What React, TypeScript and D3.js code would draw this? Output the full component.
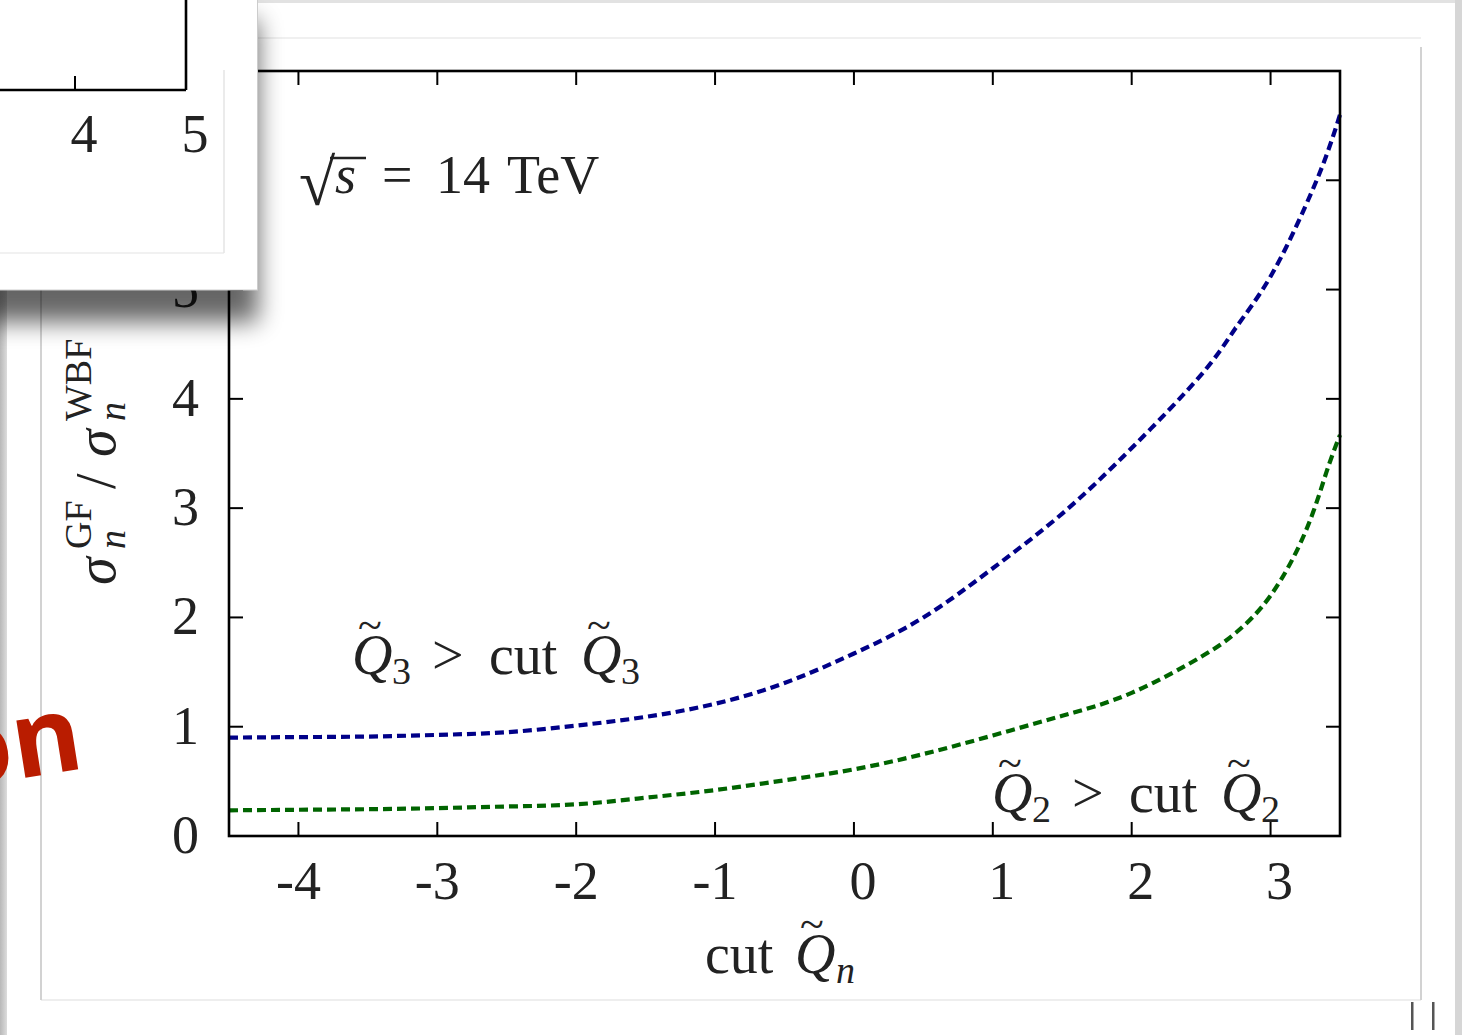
import React from 'react';
import * as d3 from 'd3';

// cut value on Q̃n and the GF/WBF cross-section ratio for each selection
const cutValues = [-4.5, -4, -3.5, -3, -2.5, -2, -1.5, -1, -0.5, 0, 0.5, 1, 1.5, 2, 2.5, 2.75, 3, 3.25, 3.4, 3.5];
const ratioQ3 = [0.9, 0.905, 0.91, 0.925, 0.95, 1.01, 1.09, 1.21, 1.4, 1.67, 2.0, 2.45, 2.95, 3.55, 4.22, 4.65, 5.12, 5.76, 6.22, 6.6];
const ratioQ2 = [0.235, 0.24, 0.245, 0.255, 0.27, 0.29, 0.35, 0.42, 0.51, 0.61, 0.75, 0.92, 1.1, 1.31, 1.64, 1.86, 2.2, 2.78, 3.32, 3.67];

const xTicks = [-4, -3, -2, -1, 0, 1, 2, 3];
const yTicks = [0, 1, 2, 3, 4, 5, 6];
const insetTicks = [4, 5];

const serif = '"Liberation Serif", "DejaVu Serif", serif';
const F = 54; // main text size
const FS = 38; // sub/superscript size

function Tilde({ cx, baseline }: { cx: number; baseline: number }) {
  return (
    <text x={cx} y={baseline - 34} textAnchor="middle" fontSize={44} fontFamily={serif} fill="#222">
      ~
    </text>
  );
}

// "Q̃k > cut Q̃k" annotation placed from its left edge
function CutLabel({ x0, baseline, k }: { x0: number; baseline: number; k: string }) {
  return (
    <g>
      <text y={baseline} fontFamily={serif} fontSize={56} fill="#222">
        <tspan x={x0} fontStyle="italic">Q</tspan>
        <tspan x={x0 + 40} y={baseline + 10} fontSize={FS}>{k}</tspan>
        <tspan x={x0 + 80} y={baseline}>&gt;</tspan>
        <tspan x={x0 + 137}>cut</tspan>
        <tspan x={x0 + 229} fontStyle="italic">Q</tspan>
        <tspan x={x0 + 269} y={baseline + 10} fontSize={FS}>{k}</tspan>
      </text>
      <Tilde cx={x0 + 18} baseline={baseline} />
      <Tilde cx={x0 + 247} baseline={baseline} />
    </g>
  );
}

export default function App() {
  const W = 1462;
  const H = 1035;
  const m = { left: 229, right: 1340, top: 71, bottom: 836 };
  const x = d3.scaleLinear().domain([-4.5, 3.5]).range([m.left, m.right]);
  const y = d3.scaleLinear().domain([0, 7]).range([m.bottom, m.top]);
  const xi = d3.scaleLinear().domain([4, 5]).range([75, 186]);
  const tick = 14;

  const line = d3
    .line<number>()
    .x((_, i) => x(cutValues[i]))
    .y((d) => y(d))
    .curve(d3.curveNatural);

  return (
    <svg width={W} height={H} style={{ position: 'absolute', left: 0, top: 0, background: '#fff' }}>
      <defs>
        <filter id="cardShadow" x="-30%" y="-30%" width="160%" height="160%">
          <feGaussianBlur stdDeviation="12" />
        </filter>
        <linearGradient id="edgeL" x1="0" x2="1">
          <stop offset="0" stopColor="#b8b8b8" />
          <stop offset="1" stopColor="#dcdcdc" />
        </linearGradient>
      </defs>

      {/* slide frame */}
      <rect x={0} y={0} width={W} height={H} fill="#fff" />
      <rect x={0} y={0} width={W} height={3} fill="#e2e2e2" />
      <rect x={0} y={0} width={7} height={H} fill="url(#edgeL)" />
      <rect x={1455} y={0} width={7} height={H} fill="#d6d6d6" />
      <line x1={41} x2={1421} y1={38} y2={38} stroke="#f0f0f0" strokeWidth={2} />
      <line x1={41} x2={1421} y1={1000} y2={1000} stroke="#eeeeee" strokeWidth={2} />
      <line x1={41} x2={41} y1={38} y2={1000} stroke="#d2d2d2" strokeWidth={2} />
      <line x1={1421} x2={1421} y1={47} y2={1000} stroke="#d2d2d2" strokeWidth={2} />
      <rect x={1411} y={1002} width={2.5} height={28} fill="#555" />
      <rect x={1432} y={1002} width={2.5} height={28} fill="#555" />

      {/* curves */}
      <path d={line(ratioQ3) ?? ''} fill="none" stroke="#000088" strokeWidth={4.2} strokeDasharray="9 5" />
      <path d={line(ratioQ2) ?? ''} fill="none" stroke="#006400" strokeWidth={4.2} strokeDasharray="9 5" />

      {/* frame and ticks */}
      <rect x={m.left} y={m.top} width={m.right - m.left} height={m.bottom - m.top} fill="none" stroke="#000" strokeWidth={2.6} />
      {xTicks.map((t) => (
        <g key={'x' + t}>
          <line x1={x(t)} x2={x(t)} y1={m.bottom} y2={m.bottom - tick} stroke="#000" strokeWidth={2} />
          <line x1={x(t)} x2={x(t)} y1={m.top} y2={m.top + tick} stroke="#000" strokeWidth={2} />
          <text x={x(t) + (t >= 0 ? 9 : 0)} y={899} textAnchor="middle" fontFamily={serif} fontSize={F} fill="#222">
            {String(t)}
          </text>
        </g>
      ))}
      {yTicks.map((t) => (
        <g key={'y' + t}>
          <line x1={m.left} x2={m.left + tick} y1={y(t)} y2={y(t)} stroke="#000" strokeWidth={2} />
          <line x1={m.right} x2={m.right - tick} y1={y(t)} y2={y(t)} stroke="#000" strokeWidth={2} />
          <text x={199} y={y(t) + 17} textAnchor="end" fontFamily={serif} fontSize={F} fill="#222">
            {String(t)}
          </text>
        </g>
      ))}

      {/* energy label */}
      <text y={193} fontFamily={serif} fontSize={F} fill="#222">
        <tspan x={299} y={205} fontSize={66}>{'\u221A'}</tspan>
        <tspan x={335} y={193} fontStyle="italic">s</tspan>
        <tspan x={382}>=</tspan>
        <tspan x={436}>14</tspan>
        <tspan x={507}>TeV</tspan>
      </text>
      <line x1={330} x2={366} y1={158} y2={158} stroke="#222" strokeWidth={2.4} />

      <CutLabel x0={352} baseline={674} k="3" />
      <CutLabel x0={992} baseline={812} k="2" />

      {/* axis titles */}
      <g>
        <text y={973} fontFamily={serif} fontSize={56} fill="#222">
          <tspan x={705}>cut</tspan>
          <tspan x={795} fontStyle="italic">Q</tspan>
          <tspan x={836} y={983} fontSize={FS} fontStyle="italic">n</tspan>
        </text>
        <Tilde cx={812} baseline={973} />
      </g>
      <text transform="translate(115,585) rotate(-90)" fontFamily={serif} fontSize={56} fill="#222">
        <tspan x={0} y={0} fontStyle="italic">σ</tspan>
        <tspan x={36} y={10} fontSize={FS} fontStyle="italic">n</tspan>
        <tspan x={36} y={-24} fontSize={FS}>GF</tspan>
        <tspan x={96} y={0}>/</tspan>
        <tspan x={128} y={0} fontStyle="italic">σ</tspan>
        <tspan x={164} y={10} fontSize={FS} fontStyle="italic">n</tspan>
        <tspan x={164} y={-24} fontSize={FS}>WBF</tspan>
      </text>

      {/* slide heading fragment */}
      <text
        transform="translate(86,768) rotate(-9)"
        textAnchor="end"
        fontFamily='"Open Sans", "DejaVu Sans", sans-serif'
        fontWeight={700}
        fontSize={106}
        fill="#b91c00"
      >
        on
      </text>

      {/* overlapping card */}
      <rect x={-20} y={20} width={278} height={302} fill="#000" opacity={0.6} filter="url(#cardShadow)" />
      <rect x={-2} y={-2} width={259.5} height={292} fill="#fff" stroke="#cccccc" strokeWidth={1} />
      <line x1={0} x2={224} y1={253} y2={253} stroke="#ececec" strokeWidth={1.5} />
      <line x1={224} x2={224} y1={70} y2={253} stroke="#e4e4e4" strokeWidth={1.5} />
      <line x1={0} x2={xi(5)} y1={90} y2={90} stroke="#000" strokeWidth={2.6} />
      <line x1={xi(5)} x2={xi(5)} y1={0} y2={90} stroke="#000" strokeWidth={2.6} />
      {insetTicks.map((t) => (
        <g key={'i' + t}>
          {t < 5 && <line x1={xi(t)} x2={xi(t)} y1={90} y2={90 - tick} stroke="#000" strokeWidth={2} />}
          <text x={xi(t) + 9} y={152} textAnchor="middle" fontFamily={serif} fontSize={F} fill="#222">
            {String(t)}
          </text>
        </g>
      ))}
    </svg>
  );
}
